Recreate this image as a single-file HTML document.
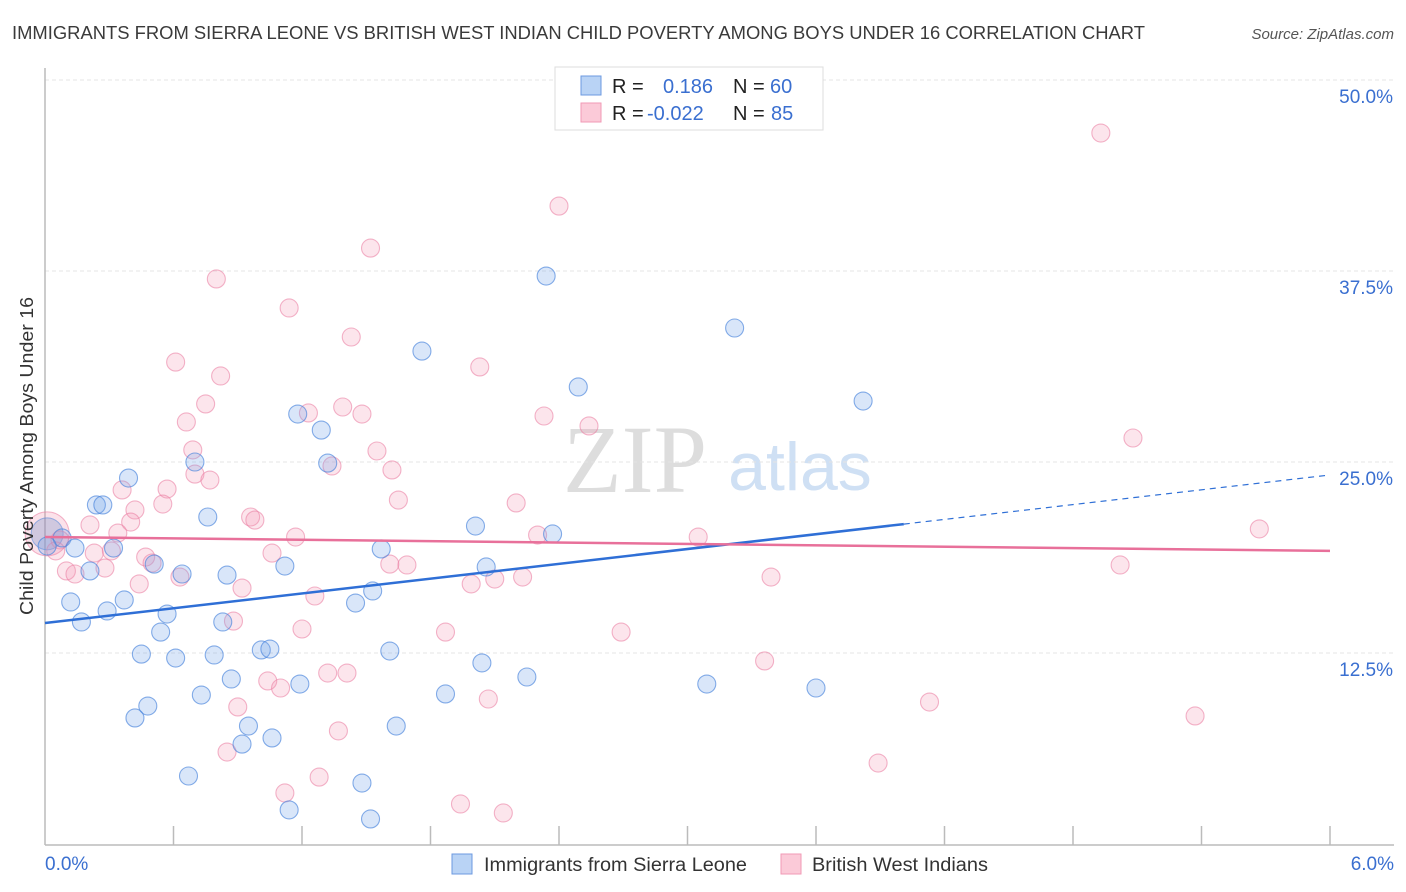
<!DOCTYPE html>
<html><head><meta charset="utf-8"><style>
body{margin:0;background:#fff;font-family:"Liberation Sans",sans-serif;}
#wrap{position:relative;width:1406px;height:892px;overflow:hidden}
</style></head><body>
<div id="wrap">
<svg id="svg" width="1406" height="892" xmlns="http://www.w3.org/2000/svg">
<text x="12" y="39" font-size="18" fill="#3a3a3a" textLength="1133" lengthAdjust="spacingAndGlyphs">IMMIGRANTS FROM SIERRA LEONE VS BRITISH WEST INDIAN CHILD POVERTY AMONG BOYS UNDER 16 CORRELATION CHART</text>
<text x="1394" y="39" font-size="15" fill="#555" font-style="italic" text-anchor="end">Source: ZipAtlas.com</text>
<g>
<text x="635" y="492" font-size="96" fill="#ddd" font-family="Liberation Serif" text-anchor="middle">ZIP</text>
<text x="800" y="490" font-size="68" fill="#cfe0f4" text-anchor="middle">atlas</text>
</g>
<g id="grid"></g><g id="axes"></g><g id="pts"></g><g id="lines"></g>
<text transform="translate(33,456) rotate(-90)" font-size="18" fill="#333" text-anchor="middle" textLength="318" lengthAdjust="spacingAndGlyphs">Child Poverty Among Boys Under 16</text>
<text x="45" y="870" font-size="19" fill="#3a6fd0">0.0%</text>
<text x="1394" y="870" font-size="19" fill="#3a6fd0" text-anchor="end">6.0%</text>
<g>
<rect x="555" y="67" width="268" height="63" fill="#fff" stroke="#ddd"/>
<rect x="581" y="76" width="20" height="19" fill="#b9d3f5" stroke="#6c9ae0"/>
<rect x="581" y="103" width="20" height="19" fill="#fbcad8" stroke="#f09ab6"/>
<text y="93" font-size="20" fill="#222"><tspan x="612">R = </tspan><tspan x="663" fill="#3a6fd0">0.186</tspan><tspan x="733">N = </tspan><tspan x="770" fill="#3a6fd0">60</tspan></text>
<text y="120" font-size="20" fill="#222"><tspan x="612">R = </tspan><tspan x="647" fill="#3a6fd0">-0.022</tspan><tspan x="733">N = </tspan><tspan x="771" fill="#3a6fd0">85</tspan></text>
</g>
<g>
<rect x="452" y="854" width="20" height="20" fill="#b9d3f5" stroke="#6c9ae0"/>
<text x="484" y="871" font-size="19" fill="#333" textLength="263" lengthAdjust="spacingAndGlyphs">Immigrants from Sierra Leone</text>
<rect x="781" y="854" width="20" height="20" fill="#fbcad8" stroke="#f09ab6"/>
<text x="812" y="871" font-size="19" fill="#333" textLength="176" lengthAdjust="spacingAndGlyphs">British West Indians</text>
</g>
</svg></div>
<script>
const yTicks=[12.5,25,37.5,50];
const yTickLabels=["12.5%","25.0%","37.5%","50.0%"];
const xTicks=[0.6,1.2,1.8,2.4,3.0,3.6,4.2,4.8,5.4,6.0];
const blueX=[2.34,3.22,1.76,2.49,3.82,1.18,1.29,0.70,1.32,0.39,0.24,0.27,0.76,2.01,2.37,0.08,0.01,0.14,0.32,1.57,0.51,1.12,2.06,0.21,0.64,0.85,1.53,0.12,0.37,1.45,0.29,0.57,0.17,0.83,0.54,0.45,0.61,0.79,1.01,1.05,1.61,2.04,0.87,1.19,2.25,3.09,3.60,0.73,1.87,0.48,0.42,0.95,1.64,1.06,0.92,0.67,1.48,1.14,1.52];
const blueY=[37.17,33.77,32.26,29.91,28.99,28.14,27.09,25.0,24.93,23.95,22.19,22.19,21.4,20.81,20.29,20.03,19.5,19.37,19.37,19.31,18.32,18.19,18.13,17.87,17.67,17.6,16.56,15.84,15.97,15.77,15.25,15.05,14.53,14.53,13.87,12.43,12.17,12.37,12.7,12.76,12.63,11.85,10.8,10.47,10.93,10.47,10.21,9.75,9.82,9.03,8.25,7.72,7.72,6.94,6.54,4.45,3.99,2.23,1.64];
const pinkX=[4.93,2.40,1.52,0.80,1.14,1.43,0.61,2.03,0.82,0.75,1.23,1.39,1.48,2.33,0.66,2.54,0.69,1.55,1.34,0.70,0.77,1.62,0.36,0.57,5.08,0.55,2.20,0.42,1.65,0.96,0.98,0.21,0.40,0.34,1.17,2.30,3.05,5.67,0.07,0.05,0.23,0.31,0.47,1.06,1.61,1.69,0.50,0.10,0.14,0.28,0.63,2.23,2.10,3.39,5.02,0.44,1.99,0.92,1.26,0.88,1.20,1.87,2.69,3.36,1.32,1.41,1.04,1.10,2.07,0.90,4.13,5.37,1.37,0.85,3.89,1.28,1.12,1.94,2.14];
const pinkY=[46.53,41.75,39.0,36.98,35.08,33.18,31.54,31.22,30.63,28.8,28.21,28.6,28.14,28.01,27.62,27.36,25.79,25.72,24.74,24.21,23.82,24.48,23.17,23.23,26.57,22.25,22.32,21.86,22.51,21.4,21.2,20.88,21.07,20.35,20.09,20.22,20.09,20.62,19.9,19.18,19.04,19.18,18.78,19.04,18.32,18.26,18.39,17.87,17.67,18.06,17.47,17.47,17.34,17.47,18.26,17.02,17.02,16.75,16.23,14.59,14.07,13.87,13.87,11.98,11.19,11.19,10.67,10.21,9.49,8.97,9.29,8.38,7.4,6.02,5.3,4.38,3.34,2.62,2.03];
const bigX=[0.01,0.01];
const bigY=[20.3,20.3];
const blueTrend=[14.46,24.15];
const blueSolidEnd=4.01;
const pinkTrend=[20.09,19.18];

const NS="http://www.w3.org/2000/svg";
const X0=45,X1=1330,Y0=844,PXY=15.28;
const sx=v=>X0+v/6*(X1-X0);
const sy=v=>Y0-v*PXY;
function mk(tag,attrs,parent){const e=document.createElementNS(NS,tag);for(const k in attrs)e.setAttribute(k,attrs[k]);document.getElementById(parent).appendChild(e);return e;}
yTicks.forEach((t,i)=>{
  const l=mk('line',{x1:X0,x2:1394,y1:sy(t),y2:sy(t),stroke:'#e4e4e4','stroke-dasharray':'4,3'},'grid');
  
  
  const tx=mk('text',{x:1393,y:sy(t)+23,'font-size':19,fill:'#3a6fd0','text-anchor':'end'},'grid');
  tx.textContent=yTickLabels[i];
  
  
});
const ax=mk('line',{x1:X0,x2:X0,y1:68,y2:845,stroke:'#bbb','stroke-width':1.5},'axes');


const bx=mk('line',{x1:X0,x2:1394,y1:845,y2:845,stroke:'#bbb','stroke-width':1.5},'axes');


xTicks.forEach(t=>{
  const l=mk('line',{x1:sx(t),x2:sx(t),y1:826,y2:845,stroke:'#bbb','stroke-width':1.5},'axes');
  
  
});
const bb=mk('circle',{cx:sx(bigX[0]),cy:sy(bigY[0]),r:22,fill:'rgba(240,140,170,0.25)',stroke:'rgba(235,130,165,0.6)'},'pts');


const bb2=mk('circle',{cx:sx(bigX[1]),cy:sy(bigY[1]),r:16,fill:'rgba(110,140,200,0.3)',stroke:'rgba(90,140,220,0.6)'},'pts');


pinkX.forEach((v,i)=>{
  const c=mk('circle',{cx:sx(v),cy:sy(pinkY[i]),r:9,fill:'rgba(245,150,180,0.25)',stroke:'rgba(235,130,165,0.6)','stroke-width':1.1},'pts');
  
  
});
blueX.forEach((v,i)=>{
  const c=mk('circle',{cx:sx(v),cy:sy(blueY[i]),r:9,fill:'rgba(120,165,235,0.28)',stroke:'rgba(70,130,220,0.65)','stroke-width':1.1},'pts');
  
  
});
const by=x=>blueTrend[0]+(blueTrend[1]-blueTrend[0])*x/6;
const l1=mk('line',{x1:sx(0),y1:sy(by(0)),x2:sx(blueSolidEnd),y2:sy(by(blueSolidEnd)),stroke:'#2f6fd6','stroke-width':2.5},'lines');


const l2=mk('line',{x1:sx(blueSolidEnd),y1:sy(by(blueSolidEnd)),x2:sx(6),y2:sy(by(6)),stroke:'#2f6fd6','stroke-width':1.2,'stroke-dasharray':'6,5'},'lines');


const l3=mk('line',{x1:sx(0),y1:sy(pinkTrend[0]),x2:sx(6),y2:sy(pinkTrend[1]),stroke:'#e8709a','stroke-width':2.5},'lines');


</script>
</body></html>
